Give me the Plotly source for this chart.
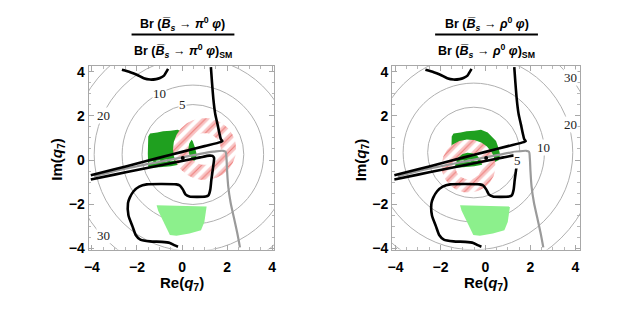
import numpy as np
import plotly.graph_objects as go

# ---------------- data ----------------
blk1_x = [-2.67, -2.3, -2.01, -1.7, -1.42, -1.15, -0.98, -0.8, -0.69, -0.62]
blk1_y = [4.08, 3.97, 3.86, 3.7, 3.64, 3.66, 3.71, 3.82, 4.0, 4.12]

blk2_x = [1.28, 1.33, 1.39, 1.47, 1.58, 1.66, 1.72, 1.79, 1.70, 1.0, 0.0, -1.0, -2.0, -3.0, -4.05]
blk2_y = [4.2, 3.5, 2.76, 2.1, 1.59, 1.2, 0.95, 0.85, 0.81, 0.63, 0.37, 0.11, -0.16, -0.42, -0.69]

blk3_x = [-4.05, -3.0, -2.0, -1.0, 0.0, 0.8, 1.21, 1.35, 1.42, 1.38, 1.3, 1.25, 1.17, 1.05, 0.33, 0.15,
          0.04, -0.1, -0.25, -1.57, -1.9, -2.15, -2.32, -2.4, -2.38, -2.2, -2.05, -1.85, -1.42, -0.9,
          -0.54, -0.35, -0.18]
blk3_y = [-0.88, -0.66, -0.45, -0.25, -0.04, 0.12, 0.2, 0.19, 0.1, -0.3, -0.9, -1.35, -1.6, -1.65, -1.65,
          -1.55, -1.34, -1.15, -1.1, -1.1, -1.2, -1.41, -1.7, -1.95, -2.5, -3.0, -3.4, -3.6, -3.68, -3.7,
          -3.75, -3.85, -3.92]

gray_x = [-3.9, -3.0, -2.0, -1.0, 0.0, 0.8, 1.4, 1.8, 1.93, 1.97, 2.0, 2.05, 2.15, 2.3, 2.45, 2.57]
gray_y = [-0.74, -0.5, -0.28, -0.08, 0.12, 0.28, 0.38, 0.42, 0.38, 0.1, -0.5, -1.2, -1.9, -2.6, -3.3, -3.95]

wdash_x = [-1.45, 0.3]
wdash_y = [-0.12, 0.1]

dgreen_x = [-1.5, -1.42, -1.1, -0.84, -0.5, -0.2, 0.1, 0.3, 0.47, 0.58, 0.65, 0.6, 0.4, 0.2, -0.5, -1.0, -1.5, -1.52]
dgreen_y = [1.07, 1.2, 1.25, 1.3, 1.33, 1.37, 1.25, 1.05, 0.86, 0.55, 0.25, 0.0, -0.1, -0.15, -0.28, -0.33, -0.35, 0.3]

lgreen_x = [-1.13, 0.04, 1.09, 0.99, 0.84, 0.33, -0.25, -0.54, -0.84, -1.06]
lgreen_y = [-2.04, -2.07, -2.1, -2.8, -3.17, -3.32, -3.42, -3.39, -2.73, -2.29]

sm_point = (0.03, 0.09)

ring_left = (1.0, 0.5, 1.4, 0.72)
ring_right = (-0.75, -0.27, 1.2, 0.6)

levels = ["5", "10", "20", "30"]
circ_left_c = (0.48, 0.25)
circ_left_r = [2.26, 3.14, 4.38, 5.45]
circ_left_lab = [(0.03, 2.52), (-0.98, 3.0), (-3.47, 2.0), (-3.47, -3.39)]
circ_right_c = (-0.52, 0.34)
circ_right_r = [2.05, 3.14, 4.4, 5.48]
circ_right_lab = [(1.42, 0.0), (2.6, 0.56), (3.77, 1.62), (3.77, 3.75)]

tick_vals = [-4, -2, 0, 2, 4]

titles = [
    ("Br (<i>B\u0305</i><sub><i>s</i></sub> \u2192 <i>\u03c0</i><sup>0</sup> <i>\u03c6</i>)",
     "Br (<i>B\u0305</i><sub><i>s</i></sub> \u2192 <i>\u03c0</i><sup>0</sup> <i>\u03c6</i>)<sub>SM</sub>"),
    ("Br (<i>B\u0305</i><sub><i>s</i></sub> \u2192 <i>\u03c1</i><sup>0</sup> <i>\u03c6</i>)",
     "Br (<i>B\u0305</i><sub><i>s</i></sub> \u2192 <i>\u03c1</i><sup>0</sup> <i>\u03c6</i>)<sub>SM</sub>"),
]

# ---------------- figure ----------------
W, H = 623, 310
fig = go.Figure()
FONT = "Liberation Sans, Arial, sans-serif"


def annulus_halves(ring):
    """two half-annulus polygons separated by a gap, so the hole stays open"""
    cx, cy, ro, ri = ring
    xs, ys = [], []
    for a0, a1 in [(0, np.pi), (np.pi, 2 * np.pi)]:
        t = np.linspace(a0, a1, 91)
        xs += list(cx + ro * np.cos(t)) + list(cx + ri * np.cos(t[::-1])) + [None]
        ys += list(cy + ro * np.sin(t)) + list(cy + ri * np.sin(t[::-1])) + [None]
    return xs, ys


def add_panel(xa, ya, ring, cc, rr, labs):
    xr, yr = xa, ya
    fig.add_trace(go.Scatter(x=dgreen_x, y=dgreen_y, fill="toself", mode="lines",
                             line=dict(width=0), fillcolor="#1fa01f", xaxis=xr, yaxis=yr, hoverinfo="skip"))
    fig.add_trace(go.Scatter(x=lgreen_x, y=lgreen_y, fill="toself", mode="lines",
                             line=dict(width=0), fillcolor="#8cf08c", xaxis=xr, yaxis=yr, hoverinfo="skip"))
    rx, ry = annulus_halves(ring)
    fig.add_trace(go.Scatter(x=rx, y=ry, fill="toself", mode="lines", line=dict(width=0),
                             fillcolor="white",
                             fillpattern=dict(shape="/", bgcolor="white", fgcolor="#f28888", size=10, solidity=0.6),
                             xaxis=xr, yaxis=yr, hoverinfo="skip"))
    fig.add_trace(go.Scatter(x=rx, y=ry, fill="toself", mode="lines", line=dict(width=0),
                             fillcolor="rgba(0,0,0,0)",
                             fillpattern=dict(shape="/", bgcolor="rgba(0,0,0,0)", fgcolor="#e0302a", size=10, solidity=0.1),
                             xaxis=xr, yaxis=yr, hoverinfo="skip"))
    fig.add_trace(go.Scatter(x=wdash_x, y=wdash_y, mode="lines", line=dict(color="white", width=2, dash="4px,3px"),
                             xaxis=xr, yaxis=yr, hoverinfo="skip"))
    fig.add_trace(go.Scatter(x=gray_x, y=gray_y, mode="lines", line=dict(color="#9a9a9a", width=2.2, shape="spline"),
                             xaxis=xr, yaxis=yr, hoverinfo="skip"))
    for bx, by in [(blk1_x, blk1_y), (blk2_x, blk2_y), (blk3_x, blk3_y)]:
        fig.add_trace(go.Scatter(x=bx, y=by, mode="lines", line=dict(color="black", width=2.6, shape="spline", smoothing=0.6),
                                 xaxis=xr, yaxis=yr, hoverinfo="skip"))
    fig.add_trace(go.Scatter(x=[sm_point[0]], y=[sm_point[1]], mode="markers",
                             marker=dict(color="black", size=4), xaxis=xr, yaxis=yr, hoverinfo="skip"))
    refx = "x" if xa == "x" else "x2"
    refy = "y" if ya == "y" else "y2"
    for r, lab, (lx, ly) in zip(rr, levels, labs):
        fig.add_shape(type="circle", xref=refx, yref=refy, x0=cc[0] - r, x1=cc[0] + r,
                      y0=cc[1] - r, y1=cc[1] + r, line=dict(color="#b0b0b0", width=1), layer="below")
        fig.add_annotation(x=lx, y=ly, xref=refx, yref=refy, text=lab, showarrow=False,
                           xanchor="center", yanchor="middle",
                           font=dict(family="Liberation Serif, Times New Roman, serif", size=13, color="#222"),
                           bgcolor="white", borderpad=0)


add_panel("x", "y", ring_left, circ_left_c, circ_left_r, circ_left_lab)
add_panel("x2", "y2", ring_right, circ_right_c, circ_right_r, circ_right_lab)

ax_common = dict(showgrid=False, zeroline=False, showline=True, mirror="ticks", linecolor="#a8a8a8",
                 linewidth=1, ticks="inside", ticklen=5, tickcolor="#a8a8a8", tickvals=tick_vals,
                 tickfont=dict(family=FONT, size=14, color="black", weight="bold"),
                 minor=dict(dtick=0.5, tick0=0, ticks="inside", ticklen=2.5, tickcolor="#b8b8b8", showgrid=False))

ydom = [1 - 255 / H, 1 - 66 / H]
fig.update_layout(
    width=W, height=H, margin=dict(l=0, r=0, t=0, b=0), showlegend=False,
    plot_bgcolor="white", paper_bgcolor="white",
    xaxis=dict(domain=[84.5 / W, 272.5 / W], range=[-4.15, 4.1], anchor="y", ticklabelstandoff=5, **ax_common),
    yaxis=dict(domain=ydom, range=[-4.05, 4.25], anchor="x", **ax_common),
    xaxis2=dict(domain=[391.5 / W, 581.5 / W], range=[-4.15, 4.2], anchor="y2", ticklabelstandoff=5, **ax_common),
    yaxis2=dict(domain=ydom, range=[-4.05, 4.25], anchor="x2", **ax_common),
)

for xc, yc_x in [(179, 53), (486, 360)]:
    fig.add_annotation(x=xc / W, y=1 - 290 / H, xref="paper", yref="paper", showarrow=False,
                       xanchor="center", yanchor="middle",
                       text="<b>Re(<i>q</i><sub>7</sub>)</b>", font=dict(family=FONT, size=15, color="black"))
    fig.add_annotation(x=yc_x / W, y=1 - 162 / H, xref="paper", yref="paper", showarrow=False, textangle=-90,
                       xanchor="center", yanchor="middle",
                       text="<b>Im(<i>q</i><sub>7</sub>)</b>", font=dict(family=FONT, size=15, color="black"))

for (num, den), xc, (l0, l1) in zip(titles, [180, 487], [(128, 232), (435, 539)]):
    fig.add_annotation(x=xc / W, y=1 - 23 / H, xref="paper", yref="paper", showarrow=False,
                       xanchor="center", yanchor="middle",
                       text="<b>" + num + "</b>", font=dict(family=FONT, size=12.5, color="black"))
    fig.add_annotation(x=xc / W, y=1 - 50 / H, xref="paper", yref="paper", showarrow=False,
                       xanchor="center", yanchor="middle",
                       text="<b>" + den + "</b>", font=dict(family=FONT, size=12.5, color="black"))
    fig.add_shape(type="line", xref="paper", yref="paper", x0=l0 / W, x1=l1 / W, y0=1 - 33.5 / H, y1=1 - 33.5 / H,
                  line=dict(color="black", width=2))

fig.write_html("out.html", config={"displayModeBar": False},
               post_script="document.body.style.margin='0px';document.body.style.overflow='hidden';")
